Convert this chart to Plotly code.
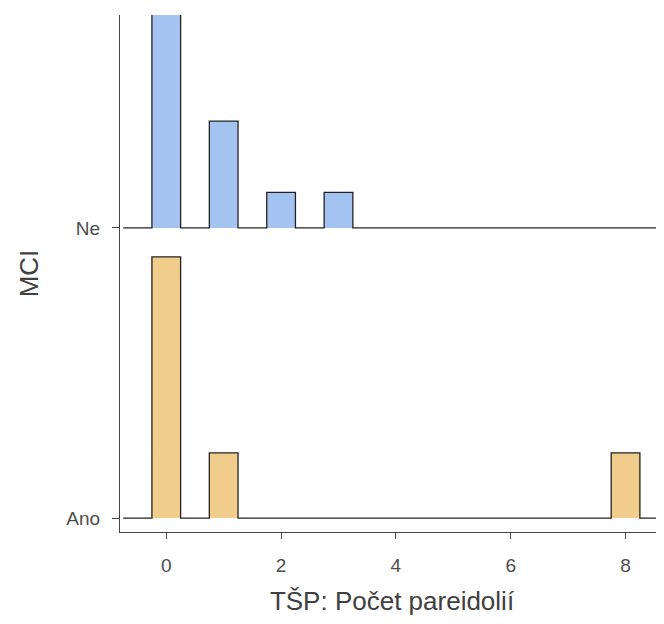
import numpy as np
import plotly.graph_objects as go

# Data: number of pareidolias (TŠP) per MCI group, as counts per value
categories = ["Ano", "Ne"]
ne_values = [0, 1, 2, 3]
ne_counts = [6, 3, 1, 1]
ano_values = [0, 1, 8]
ano_counts = [4, 1, 1]
x_ticks = [0, 2, 4, 6, 8]

groups = {
    "Ano": (ano_values, ano_counts, "#F0CD8A"),
    "Ne": (ne_values, ne_counts, "#A5C3F0"),
}

binwidth = 0.5
all_vals = ne_values + ano_values
centers = np.arange(min(all_vals) - binwidth, max(all_vals) + binwidth + 1e-9, binwidth)
scale_height = 0.9

# densities
dens = {}
for name, (vals, cnts, _) in groups.items():
    n = sum(cnts)
    d = np.zeros(len(centers))
    for v, c in zip(vals, cnts):
        idx = int(np.argmin(np.abs(centers - v)))
        d[idx] += c / (n * binwidth)
    dens[name] = d
max_d = max(d.max() for d in dens.values())
k = scale_height / max_d

fig = go.Figure()
for name in ["Ne", "Ano"]:
    base = categories.index(name) + 1
    d = dens[name]
    xs, ys = [], []
    for c, h in zip(centers, d):
        x0, x1 = c - binwidth / 2, c + binwidth / 2
        xs += [x0, x1]
        ys += [base + h * k, base + h * k]
    xs = [xs[0]] + xs + [xs[-1]]
    ys = [base] + ys + [base]
    fig.add_trace(go.Scatter(
        x=xs, y=ys, mode="lines", fill="toself",
        fillcolor=groups[name][2],
        line=dict(color="#222222", width=1.3),
        hoverinfo="skip", showlegend=False,
    ))

fig.update_layout(
    width=656, height=616,
    margin=dict(l=112, r=0, t=7, b=92),
    plot_bgcolor="white", paper_bgcolor="white",
    font=dict(family="Liberation Sans, Arial, sans-serif", color="#4d4d4d"),
    showlegend=False,
)
fig.update_xaxes(
    range=[-0.806, 8.67], tickvals=x_ticks, ticktext=[str(t) for t in x_ticks],
    showgrid=False, zeroline=False,
    showline=True, linecolor="#444444", linewidth=1.3,
    ticks="outside", ticklen=6, tickcolor="#444444", tickwidth=1.3,
    ticklabelstandoff=10,
    tickfont=dict(size=19, color="#4d4d4d"),
    title=dict(text="TŠP: Počet pareidolií", font=dict(size=26, color="#404040"), standoff=16),
)
fig.update_yaxes(
    range=[0.952, 2.734], tickvals=[1, 2], ticktext=categories,
    showgrid=False, zeroline=False,
    showline=True, linecolor="#444444", linewidth=1.3,
    ticks="outside", ticklen=7, tickcolor="#444444", tickwidth=1.3,
    ticklabelstandoff=8,
    tickfont=dict(size=19, color="#4d4d4d"),
    title=dict(text="MCI", font=dict(size=26, color="#404040"), standoff=20),
)

fig.write_html("out.html")
